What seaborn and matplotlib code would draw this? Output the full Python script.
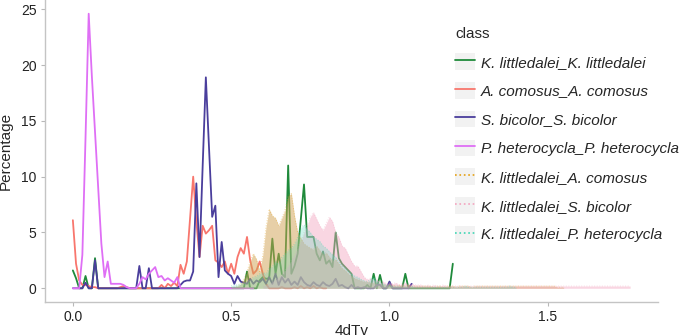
import numpy as np
import pandas as pd
import seaborn as sns
import matplotlib
matplotlib.use("Agg")
import matplotlib.pyplot as plt
from matplotlib.lines import Line2D
from matplotlib.patches import Rectangle
from matplotlib.legend_handler import HandlerLine2D

sns.set_style("ticks")
plt.rcParams["font.family"] = ["Liberation Sans", "DejaVu Sans"]

step = 0.01

# ---- intra-species (solid lines) ----
kl_kl_start = 0.00
kl_kl = [1.6, 0.9, 0, 0, 1.1, 0, 0, 2.7, 0, 0,
         0, 0, 0, 0, 0, 0, 0, 0, 0, 0,
         0, 0, 0, 0, 0, 0, 0, 0, 0, 0,
         0, 0, 0, 0, 0, 0, 0, 0, 0, 0,
         0, 0, 0, 0, 0, 0, 0, 0, 0, 0,
         0, 0, 0, 0, 0, 1.5, 0, 0, 0, 0.7,
         1.0, 0.85, 0.9, 4.45, 1.3, 3.1, 1.3, 1.0, 11.0, 1.3,
         2.0, 3.1, 6.2, 9.3, 4.6, 4.6, 4.6, 3.1, 2.5, 3.3,
         2.2, 2.5, 1.9, 5.0, 2.7, 2.2, 1.9, 1.6, 1.3, 0,
         0, 0, 0, 0.3, 0, 1.3, 0, 1.2, 0, 0,
         0.3, 0, 0, 0, 0, 1.3, 0, 0, 0, 0,
         0, 0, 0, 0, 0, 0, 0, 0, 0, 0,
         2.2]

ac_ac_start = 0.00
ac_ac = [6.1, 2.2, 0.7, 0.3, 0.3, 0.2, 0.1, 0.1, 0, 0,
         0, 0, 0, 0, 0, 0.1, 0.2, 0.1, 0, 0,
         0, 0, 0, 0, 0, 0, 0, 0, 0.3, 0,
         0.4, 0.2, 0.5, 0.2, 2.1, 1.3, 2.4, 6.2, 10.0, 6.0,
         2.8, 5.6, 4.9, 5.2, 5.6, 2.5, 2.3, 1.9, 2.4, 1.3,
         2.2, 1.3, 2.8, 3.6, 3.1, 4.6, 2.5, 1.3, 1.6, 2.4,
         1.3, 0.4, 0, 0, 0, 0, 0.1, 0, 0, 0,
         0.1, 0, 0.2, 0, 0.1, 0, 0.2, 0, 0.1, 0,
         0]

sb_sb_start = 0.00
sb_sb = [0, 0, 0, 0, 0.5, 0, 0, 2.5, 0, 0,
         0, 0, 0, 0, 0, 0, 0, 0, 0, 0,
         0, 2.0, 0, 0, 1.8, 0, 0, 0, 0, 0,
         0, 0, 0, 0, 0.3, 0.6, 0.7, 0.7, 1.5, 9.4,
         2.8, 11.0, 18.9, 12.6, 6.4, 7.4, 1.0, 4.15, 1.6, 1.3,
         1.1, 0.4, 1.1, 0.6, 0.5, 0.4, 0.85, 0.4, 0.7, 0.55,
         0.85, 0.4, 1.0, 0.4, 1.3, 0.3, 1.0, 0.5, 0.85, 0.3,
         0.6, 0.3, 1.0, 0.55, 0.3, 0.2, 0.55, 0.3, 0.2, 0.55,
         0.3, 0.2, 0.4, 0.85, 0.2, 0.3, 0.1, 0, 0.3, 0,
         0.1, 0, 0.1, 0, 0, 0, 0.3, 0.3, 0, 0,
         0.6, 0, 0, 0, 0, 0, 0, 0.4]

ph_ph_start = 0.00
ph_ph = [0, 0, 0, 3.0, 13.5, 24.6, 19.0, 14.0, 9.0, 4.0,
         1.0, 2.4, 0.4, 0.4, 0.4, 0.4, 0.3, 0.1, 0, 0,
         0, 0.4, 1.0, 0.8, 1.3, 1.6, 1.9, 1.0, 1.1, 0.7,
         0.9, 0.7, 0.5, 1.0, 0, 0, 0, 0, 0, 0,
         0, 0, 0, 0, 0, 0, 0, 0, 0, 0,
         0, 0, 0, 0, 0, 0, 0, 0]

# ---- inter-species (dotted outline + filled area) ----
kl_ac_start = 0.50
kl_ac = [0.05, 0.1, 0.2, 0.4, 0.8, 1.5, 2.4, 3.1, 2.6, 1.5,
         3.0, 5.5, 7.1, 6.5, 6.3, 5.6, 6.3, 7.0, 8.3, 8.5,
         6.5, 5.0, 4.5, 4.0, 3.8, 3.6, 3.5, 3.8, 3.4, 3.0,
         3.2, 2.8, 2.5, 2.6, 2.2, 1.8, 1.6, 1.3, 1.1, 0.9,
         0.8, 0.7, 0.6, 0.6, 0.5, 0.5, 0.4, 0.4, 0.3, 0.3,
         0.3, 0.3, 0.2, 0.3, 0.2, 0.2, 0.3, 0.2, 0.2, 0.2,
         0.2, 0.2, 0.2, 0.2, 0.1, 0.2, 0.2, 0.1, 0.2, 0.2,
         0.2, 0.1, 0.2, 0.2, 0.2, 0.2, 0.1, 0.2, 0.2, 0.2,
         0.2, 0.2, 0.2, 0.2, 0.2, 0.2, 0.2, 0.2, 0.2, 0.2,
         0.2, 0.2, 0.2, 0.2, 0.2, 0.2, 0.2, 0.2, 0.2, 0.2,
         0.2, 0.2, 0.2, 0.1, 0.1, 0.1]

kl_sb_start = 0.60
kl_sb = [0.2, 0.3, 0.4, 0.6, 0.8, 1.0, 1.3, 1.6, 2.0, 2.5,
         3.0, 3.6, 4.2, 5.0, 5.6, 6.4, 6.8, 6.2, 5.6, 5.2,
         5.8, 6.4, 6.0, 5.0, 4.6, 3.8, 3.6, 3.0, 2.4, 2.0,
         2.0, 1.5, 1.0, 0.8, 0.9, 0.7, 0.8, 0.5, 0.6, 0.4,
         0.5, 0.4, 0.5, 0.3, 0.4, 0.5, 0.3, 0.4, 0.3, 0.3,
         0.3, 0.2, 0.3, 0.2, 0.3, 0.2, 0.2, 0.3, 0.2, 0.2,
         0.2, 0.2, 0.2, 0.2, 0.2, 0.2, 0.2, 0.2, 0.2, 0.2,
         0.2, 0.2, 0.2, 0.2, 0.2, 0.2, 0.2, 0.2, 0.2, 0.2,
         0.2, 0.2, 0.2, 0.2, 0.2, 0.2, 0.2, 0.2, 0.2, 0.2,
         0.2, 0.2, 0.2, 0.2, 0.2, 0.2, 0.2, 0.2, 0.2, 0.2,
         0.2, 0.2, 0.2, 0.2, 0.2, 0.2, 0.2, 0.2, 0.2, 0.2,
         0.2, 0.2, 0.2, 0.2, 0.2, 0.2, 0.2]

kl_ph_start = 0.50
kl_ph = [0.2, 0.3, 0.3, 0.4, 0.5, 0.6, 0.8, 1.0, 1.1, 1.3,
         1.4, 1.3, 1.8, 2.0, 2.4, 2.2, 2.8, 3.1, 3.4, 3.6,
         4.0, 4.6, 5.4, 5.7, 5.3, 5.0, 4.6, 4.4, 4.2, 3.8,
         3.6, 3.3, 3.0, 2.8, 2.4, 2.0, 1.8, 1.5, 1.3, 1.1,
         1.0, 0.8, 0.7, 0.6, 0.8, 1.0, 0.6, 0.5, 0.4, 0.3,
         0.3, 0.2, 0.2, 0.2, 0.1, 0.2, 0.1, 0.2, 0.1, 0.1,
         0.1, 0.1, 0.1, 0.1, 0.1, 0.1, 0.1, 0.1, 0.1, 0.1,
         0.1, 0.1, 0.1, 0.1, 0.2, 0.1, 0.1, 0.1, 0.1, 0.1,
         0.1, 0.1, 0.1, 0.1, 0.1, 0.1, 0.1, 0.1, 0.2, 0.1,
         0.1]

line_labels = ["K. littledalei_K. littledalei", "A. comosus_A. comosus",
               "S. bicolor_S. bicolor", "P. heterocycla_P. heterocycla"]
area_labels = ["K. littledalei_A. comosus", "K. littledalei_S. bicolor",
               "K. littledalei_P. heterocycla"]
line_colors = ["#1f8a3b", "#f8766d", "#4a3e9c", "#df6ff5"]
area_colors = ["#e5a012", "#f4a3bf", "#3fd6b4"]
area_fill_colors = ["#d0a050", "#f2a6c0", "#5fd8bc"]
area_fill_alpha = [0.5, 0.45, 0.3]

line_series = [(kl_kl_start, kl_kl), (ac_ac_start, ac_ac),
               (sb_sb_start, sb_sb), (ph_ph_start, ph_ph)]
area_series = [(kl_ac_start, kl_ac), (kl_sb_start, kl_sb), (kl_ph_start, kl_ph)]


def frame(start, vals, label):
    x = np.round(start + step * np.arange(len(vals)), 2)
    return pd.DataFrame({"4dTv": x, "Percentage": vals, "class": label})


fig = plt.figure(figsize=(6.85, 3.36), dpi=100)
ax = fig.add_axes([45 / 685, 34 / 336, 613 / 685, 302 / 336])

for (s, v), lab, col in zip(line_series, line_labels, line_colors):
    d = frame(s, v, lab)
    sns.lineplot(data=d, x="4dTv", y="Percentage", color=col, lw=1.3,
                 ax=ax, legend=False, zorder=2)

for (s, v), lab, col, fc, al in zip(area_series, area_labels, area_colors,
                                    area_fill_colors, area_fill_alpha):
    d = frame(s, v, lab)
    ax.fill_between(d["4dTv"], 0, d["Percentage"], color=fc, alpha=al,
                    lw=0, zorder=3)
    sns.lineplot(data=d, x="4dTv", y="Percentage", color=col, lw=0.7,
                 linestyle=":", alpha=0.4, ax=ax, legend=False, zorder=3)

ax.set_xticks([0.0, 0.5, 1.0, 1.5])
ax.set_xticklabels(["0.0", "0.5", "1.0", "1.5"])
ax.set_yticks([0, 5, 10, 15, 20, 25])
ax.tick_params(axis="both", labelsize=10, colors="#222222", length=3,
               width=0.8, pad=3)
ax.tick_params(axis="both", color="#b8b8b8")
for sp in ["top", "right"]:
    ax.spines[sp].set_visible(False)
for sp in ["left", "bottom"]:
    ax.spines[sp].set_color("#c4c4c4")
    ax.spines[sp].set_linewidth(1.0)
ax.set_xlabel("4dTv", fontsize=11, labelpad=0)
ax.set_ylabel("Percentage", fontsize=11, labelpad=6)


class BoxHandler(HandlerLine2D):
    def create_artists(self, legend, orig_handle, xdescent, ydescent,
                       width, height, fontsize, trans):
        arts = super().create_artists(legend, orig_handle, xdescent, ydescent,
                                      width, height, fontsize, trans)
        r = Rectangle((-xdescent, -ydescent), width, height,
                      facecolor="#f2f2f2", edgecolor="none", transform=trans)
        return [r] + list(arts)


handles = [Line2D([], [], color=c, lw=1.3) for c in line_colors] + \
          [Line2D([], [], color=c, lw=1.2, linestyle=":") for c in area_colors]
labels = line_labels + area_labels
handler = BoxHandler()
leg = fig.legend(handles, labels, loc="upper left",
                 bbox_to_anchor=(455 / 685, 1 - 27 / 336),
                 frameon=False, title="class",
                 title_fontsize=11, prop={"style": "italic", "size": 11},
                 handlelength=1.31, handleheight=1.31, labelspacing=0.79,
                 handletextpad=0.4, borderpad=0, borderaxespad=0,
                 alignment="left",
                 handler_map={h: handler for h in handles})

fig.savefig("out.png", dpi=100)
